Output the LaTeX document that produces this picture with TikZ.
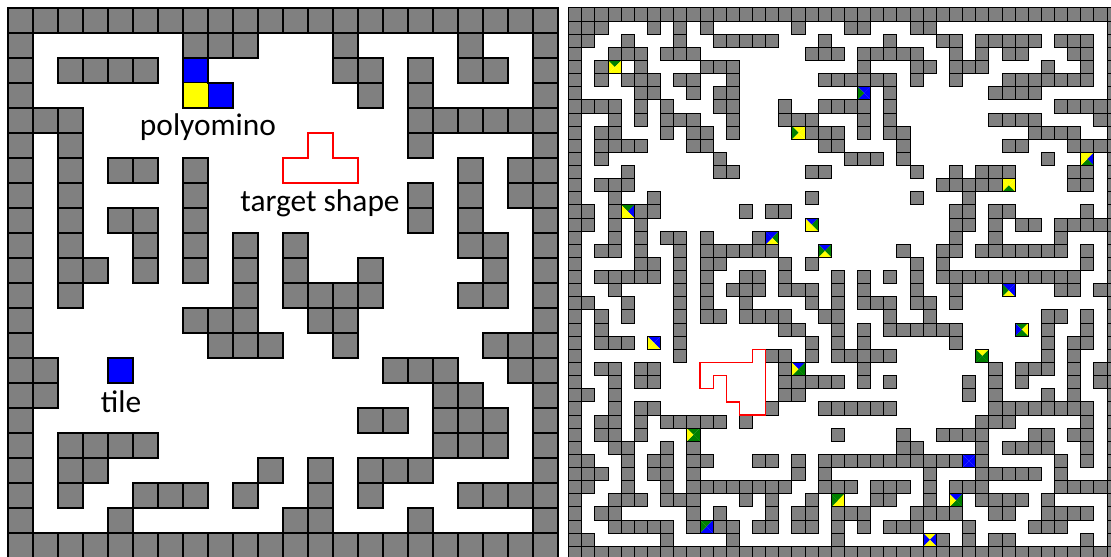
\documentclass[tikz,border=0pt]{standalone}
\usepackage{fontspec}
\newfontfamily\labelfont{Carlito}
\definecolor{wallgray}{RGB}{128,128,128}
\definecolor{tb}{RGB}{0,0,255}
\definecolor{ty}{RGB}{255,255,0}
\definecolor{tg}{RGB}{0,128,0}
\def\wallcell#1#2{\draw[wall] (#1,#2) rectangle ++(1,1);}
\def\wangtile#1#2#3#4#5#6{%
  \begin{scope}[shift={(#1,#2)}]
    \fill[#3] (0,0) -- (1,0) -- (.5,.5) -- cycle;
    \fill[#4] (1,0) -- (1,1) -- (.5,.5) -- cycle;
    \fill[#5] (1,1) -- (0,1) -- (.5,.5) -- cycle;
    \fill[#6] (0,1) -- (0,0) -- (.5,.5) -- cycle;
    \draw[piece] (0,0) rectangle (1,1);
  \end{scope}}

\begin{document}
\begin{tikzpicture}[x=0.5pt,y=-0.5pt]
    \tikzstyle{wall}=[fill=wallgray,draw=black,line width=0.55pt]
    \tikzstyle{piece}=[draw=black,line width=0.5pt]
    \tikzstyle{outline}=[draw=black,line width=1.1pt]
    \tikzstyle{target}=[draw=red,line width=0.9pt,line join=miter]
    \tikzstyle{caption}=[font=\labelfont\fontsize{15.7}{18}\selectfont,anchor=base,inner sep=0pt]
    \useasboundingbox (0,0) rectangle (1111,556);
    \clip (0,0) rectangle (1111,556);
    % small maze
    \begin{scope}[shift={(8,8)},x=12.5pt,y=-12.5pt]
        \foreach \i in {0,...,21} {\wallcell{\i}{0} \wallcell{\i}{21} \wallcell{0}{\i} \wallcell{21}{\i}}
        \foreach \r/\cs in {1/{7,8,9,13,18}, 2/{2,3,4,5,13,14,16,18,19}, 3/{14,16},
            4/{1,2,16,17,18,19,20}, 5/{2,16}, 6/{2,4,5,7,18,20}, 7/{2,7,16,18,20},
            8/{2,4,5,7,16,18}, 9/{2,5,7,9,11,18,19}, 10/{2,3,5,7,9,11,14,19},
            11/{2,9,11,12,13,14,18,19}, 12/{7,8,9,12,13}, 13/{8,9,10,13,19,20},
            14/{1,15,16,17,20}, 15/{1,17,18}, 16/{14,15,17,18,19}, 17/{2,3,4,5,17,18,19},
            18/{2,3,10,12,14,15,16}, 19/{2,5,6,7,9,12,14,18,19,20}, 20/{4,11,12,16}}
            {\foreach \c in \cs {\wallcell{\c}{\r}}}
        \fill[tb,piece] (7,2) rectangle (8,3);
        \fill[ty,piece] (7,3) rectangle (8,4);
        \fill[tb,piece] (8,3) rectangle (9,4);
        \draw[outline] (7,2) -- (8,2) -- (8,3) -- (9,3) -- (9,4) -- (7,4) -- cycle;
        \fill[tb,outline] (4,14) rectangle (5,15);
        \draw[target] (12,5) -- (13,5) -- (13,6) -- (14,6) -- (14,7) -- (11,7) -- (11,6) -- (12,6) -- cycle;
    \end{scope}
    \node[caption] (polyname) at (208,135) {polyomino};
    \node[caption] (targetname) at (320,211) {target shape};
    \node[caption] (tilename) at (121,412) {tile};
    % large maze
    \begin{scope}[shift={(568.7,8)},x=6.565pt,y=-6.565pt]
        \tikzstyle{wall}=[fill=wallgray,draw=black,line width=0.5pt]
        \foreach \i in {0,...,41} {\wallcell{\i}{0} \wallcell{\i}{41} \wallcell{0}{\i} \wallcell{41}{\i}}
        \foreach \r/\cs in {1/{1,2,6,8,10,17,21,22,26,27},
            2/{1,4,8,11,12,13,14,15,19,24,28,29,31,32,33,34,35,37,38,39},
            3/{3,4,5,7,8,9,18,19,20,22,23,24,25,26,29,31,33,34,38,39},
            4/{2,5,10,11,12,22,26,27,29,30,31,36,39},
            5/{2,4,5,6,8,9,12,19,20,21,22,23,24,26,29,33,34,35,36,37,38,39},
            6/{5,6,9,11,12,24,32,33,34,35},
            7/{1,2,3,5,7,11,12,16,19,20,21,22,24,37,38,39,40},
            8/{3,5,7,8,9,12,16,17,18,22,24,32,33,34,35,40},
            9/{2,3,7,9,10,12,18,19,20,22,24,25,35,36,37,38},
            10/{2,3,4,5,9,10,19,20,25,33,34,38,39,40},
            11/{2,11,21,22,23,25,36},
            12/{4,11,12,18,19,26,29,31,32,33,38,39},
            13/{2,3,4,28,29,30,31,32,38,39},
            14/{3,6,18,26,30},
            15/{1,3,5,6,13,15,16,29,30,32,33,39},
            16/{1,3,5,29,30,32,34,35,37,38,39,40},
            17/{3,5,7,8,10,14,29,32,37},
            18/{2,3,5,8,10,11,12,13,14,15,25,28,29,31,32,33,34,35,36,37,39},
            19/{5,6,8,10,11,16,18,26,28,39},
            20/{2,3,4,5,6,8,10,13,14,16,20,22,24,26,28,29,30,31,32,33,34,35,36,37,38},
            21/{3,8,10,12,13,14,16,17,18,20,22,26,29,37,38,40},
            22/{1,4,8,10,13,18,20,22,23,24,26,27,29},
            23/{2,4,8,10,11,13,14,15,16,19,20,24,27,36,37,39},
            24/{2,8,16,17,20,22,24,25,26,27,28,29,36,39},
            25/{2,3,4,8,18,20,22,29,36,38,39},
            26/{8,15,16,18,20,21,22,23,24,36,38},
            27/{2,3,5,6,16,22,32,34,35,36,38,40},
            28/{3,5,6,16,17,18,19,20,22,24,30,32,34,38,40},
            29/{1,3,16,17,30,32,36,38},
            30/{3,5,6,15,19,20,21,22,23,24,32,33,34,35,36,37,38,39},
            31/{2,3,5,7,8,9,10,11,13,31,32,33,39},
            32/{2,3,5,20,25,28,29,30,31,35,36,38,39},
            33/{3,4,7,9,25,26,31,33,34,35,36,39},
            34/{1,4,6,7,9,10,14,15,17,19,20,21,22,23,24,25,26,27,28,29,31,37,39},
            35/{1,2,4,6,7,9,17,19,27,31,32,33,34,35,37},
            36/{1,4,7,9,10,11,12,13,14,15,16,19,20,21,23,24,25,27,29,30,31,37,38,39,40},
            37/{3,4,5,7,8,9,13,15,18,23,24,27,31,32,33,34,36},
            38/{2,3,9,11,15,17,18,20,21,22,26,27,28,29,32,33,36,37,38,39},
            39/{3,4,5,6,7,9,11,12,14,15,17,18,20,22,24,25,26,30,35,36,37},
            40/{1,7,12,20,28,30,32,33,39}}
            {\foreach \c in \cs {\wallcell{\c}{\r}}}
        \foreach \cx/\cy/\tn/\te/\ts/\tw in {3/4/tg/ty/ty/ty, 22/6/tb/tb/tb/tg, 17/9/ty/ty/ty/tg,
            39/11/ty/tb/tg/ty, 33/13/ty/ty/tg/ty, 4/15/tg/tb/ty/ty, 18/16/tb/tg/ty/ty,
            15/17/tb/tg/ty/tb, 19/18/tb/tg/ty/tg, 33/21/tb/tb/ty/tg, 34/24/tg/ty/tg/tb,
            6/25/tb/tb/ty/ty, 31/26/ty/tg/tg/tg, 17/27/tb/tg/tg/ty, 9/32/tg/tg/tg/ty,
            30/34/tb/tb/tb/tb, 20/37/tg/ty/ty/tg, 29/37/tb/tg/tg/ty, 10/39/tg/tb/tb/tg,
            27/40/ty/tb/ty/tb}
            {\wangtile{\cx}{\cy}{\tn}{\te}{\ts}{\tw}}
        \draw[target,line width=0.6pt] (10,27) -- (14,27) -- (14,26) -- (15,26) -- (15,31) -- (13,31)
            -- (13,30) -- (12,30) -- (12,28) -- (11,28) -- (11,29) -- (10,29) -- cycle;
    \end{scope}
\end{tikzpicture}
\end{document}
